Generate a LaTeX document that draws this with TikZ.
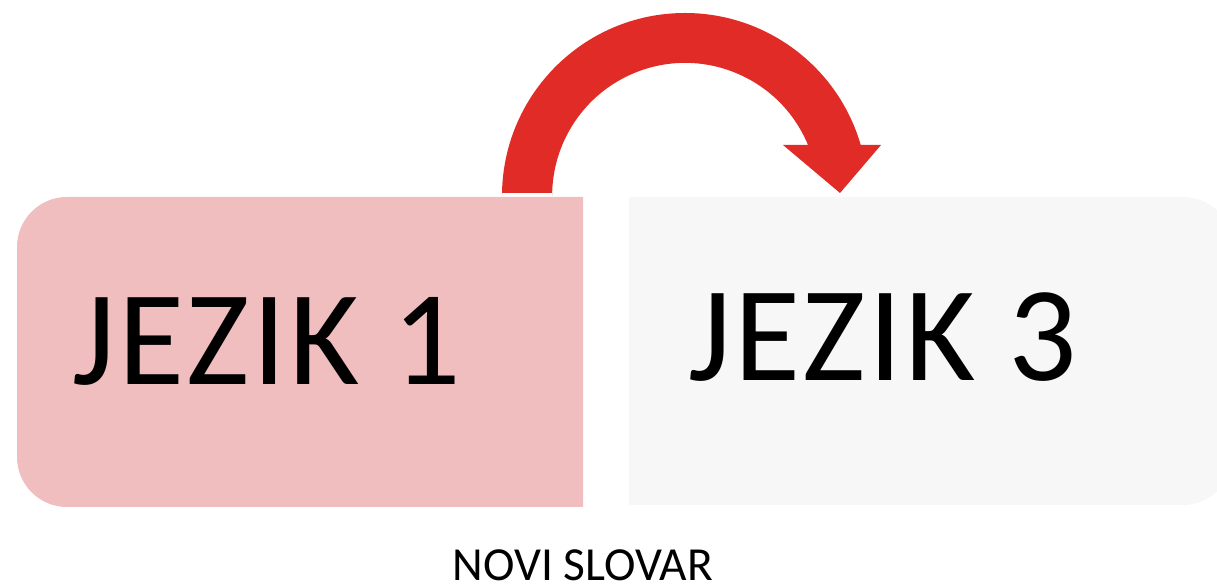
\documentclass[tikz,border=0pt]{standalone}
\usepackage{fontspec}
\setmainfont{Carlito}
\definecolor{arrowred}{HTML}{E02B27}
\definecolor{boxpink}{HTML}{F0BEBE}
\definecolor{boxgray}{HTML}{F7F7F7}

\begin{document}
\begin{tikzpicture}[x=0.02cm,y=0.02cm]
\useasboundingbox (0,0) rectangle (1217,588);

% the two boxes
\fill[boxpink] (583,81) -- (67,81) arc (270:180:50) -- (17,341) arc (180:90:50) -- (583,391) -- cycle;
\fill[boxgray] (629,83) -- (1183,83) arc (270:360:50) -- (1233,341) arc (0:90:50) -- (629,391) -- cycle;

\node[anchor=base west,inner sep=0pt,font=\fontsize{77}{77}\selectfont\addfontfeatures{LetterSpace=2}](j1) at (72,203) {JEZIK 1};
\node[anchor=base west,inner sep=0pt,font=\fontsize{77}{77}\selectfont\addfontfeatures{LetterSpace=2}](j3) at (688,207) {JEZIK 3};
\node[anchor=base,inner sep=0pt,font=\fontsize{27}{27}\selectfont](ns) at (583,7) {NOVI SLOVAR};

% curved arrow from box 1 to box 3
\fill[arrowred] (502,395) -- (502,392) arc (180:16.2:183) -- (881,443) -- (840,395)
  -- (783,443) -- (808,443) arc (22.5:180:133) -- (552,395) -- cycle;
\end{tikzpicture}
\end{document}
